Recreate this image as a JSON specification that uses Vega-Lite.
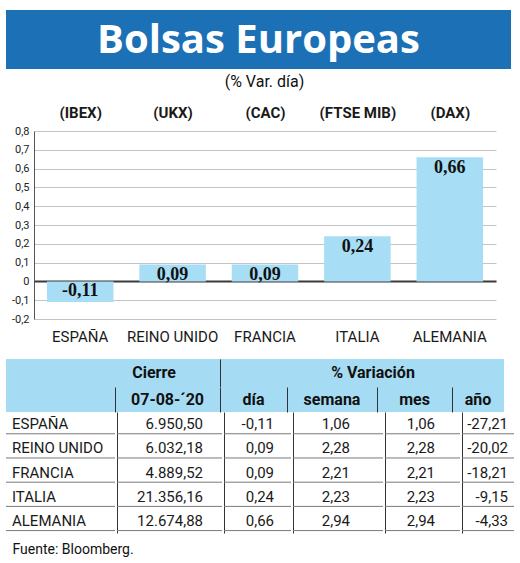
{
  "$schema": "https://vega.github.io/schema/vega-lite/v6.json",
  "background": "white",
  "padding": {"left": 5, "top": 10, "right": 0, "bottom": 0},
  "spacing": 15,
  "datasets": {
    "bolsas": [
      {"pais": "ESPAÑA", "indice": "(IBEX)", "cierre": 6950.50, "dia": -0.11, "semana": 1.06, "mes": 1.06, "anio": -27.21},
      {"pais": "REINO UNIDO", "indice": "(UKX)", "cierre": 6032.18, "dia": 0.09, "semana": 2.28, "mes": 2.28, "anio": -20.02},
      {"pais": "FRANCIA", "indice": "(CAC)", "cierre": 4889.52, "dia": 0.09, "semana": 2.21, "mes": 2.21, "anio": -18.21},
      {"pais": "ITALIA", "indice": "(FTSE MIB)", "cierre": 21356.16, "dia": 0.24, "semana": 2.23, "mes": 2.23, "anio": -9.15},
      {"pais": "ALEMANIA", "indice": "(DAX)", "cierre": 12674.88, "dia": 0.66, "semana": 2.94, "mes": 2.94, "anio": -4.33}
    ]
  },
  "vconcat": [
    {
      "width": 505,
      "height": 59,
      "view": {"fill": "#1b70b6", "stroke": null},
      "data": {"values": [{"titulo": "Bolsas Europeas"}]},
      "title": {"text": "(% Var. día)", "orient": "bottom", "offset": 5, "fontSize": 16, "fontWeight": "normal", "dx": 6, "color": "#111"},
      "mark": {"type": "text", "color": "white", "font": "Open Sans", "fontWeight": "bold", "fontSize": 40, "dy": 1},
      "encoding": {"text": {"field": "titulo"}}
    },
    {
      "spacing": 0,
      "hconcat": [
        {
          "width": 5,
          "height": 188,
          "data": {"values": [{"t": ""}]},
          "mark": "text",
          "encoding": {"text": {"field": "t"}}
        },
        {
          "width": 462,
          "height": 188,
          "data": {"name": "bolsas"},
          "encoding": {
            "y": {"field": "dia", "type": "quantitative",
              "scale": {"domain": [-0.2, 0.8], "nice": false},
              "axis": {"title": null, "values": [-0.2, -0.1, 0, 0.1, 0.2, 0.3, 0.4, 0.5, 0.6, 0.7, 0.8], "format": "~f", "labelOverlap": false, "ticks": false, "domain": true, "domainColor": "#555", "grid": true,
                "gridColor": {"condition": {"test": "datum.value === 0", "value": "#3a3a3a"}, "value": "#c4c4c4"},
                "gridWidth": {"condition": {"test": "datum.value === 0", "value": 2}, "value": 1},
                "labelFontSize": 11, "labelPadding": 5, "labelColor": "#222"}}
          },
          "layer": [
            {
              "mark": {"type": "bar", "color": "#a8def5"},
              "encoding": {
                "x": {"field": "pais", "type": "nominal", "sort": null,
                  "scale": {"paddingInner": 0.28, "paddingOuter": 0.14},
                  "axis": {"orient": "bottom", "title": null, "labelAngle": 0, "domain": false, "ticks": false, "labelPadding": 10, "labelFontSize": 15, "labelColor": "#1a1a1a"}}
              }
            },
            {
              "mark": {"type": "text", "font": "Liberation Serif", "fontWeight": "bold", "fontSize": 18, "color": "#111",
                "baseline": {"expr": "datum.dia < 0 ? 'bottom' : 'top'"},
                "dy": {"expr": "datum.dia < 0 ? -2 : 2"}},
              "encoding": {
                "x": {"field": "indice", "type": "nominal", "sort": null,
                  "scale": {"paddingInner": 0.28, "paddingOuter": 0.14},
                  "axis": {"orient": "top", "title": null, "labelAngle": 0, "domain": false, "ticks": false, "labelPadding": 11, "labelFontSize": 15, "labelFontWeight": "bold", "labelColor": "#1a1a1a"}},
                "text": {"field": "dia", "type": "quantitative", "format": ".2f"}
              }
            }
          ],
          "resolve": {"scale": {"x": "independent"}}
        }
      ]
    },
    {
      "spacing": 0,
      "title": {"text": "Fuente: Bloomberg.", "orient": "bottom", "anchor": "start", "offset": 10, "fontSize": 14, "fontWeight": "normal", "dx": 7, "color": "#111"},
      "vconcat": [
        {
          "spacing": 0,
          "hconcat": [
            {
              "width": 214, "height": 28,
              "view": {"fill": "#a6dcf3", "stroke": null},
              "data": {"values": [{"t": "Cierre"}]},
              "mark": {"type": "text", "fontWeight": "bold", "fontSize": 16, "dx": 41, "color": "#111"},
              "encoding": {"text": {"field": "t"}}
            },
            {
              "width": 284, "height": 28,
              "view": {"fill": "#a6dcf3", "stroke": null},
              "data": {"values": [{"t": "% Variación"}]},
              "mark": {"type": "text", "fontWeight": "bold", "fontSize": 16, "dx": 11, "color": "#111"},
              "encoding": {
                "text": {"field": "t"},
                "y": {"field": "t", "type": "nominal", "axis": {"labels": false, "ticks": false, "title": null, "domainColor": "#333"}}
              }
            }
          ]
        },
        {
          "spacing": 0,
          "hconcat": [
            {
              "width": 109, "height": 25,
              "view": {"fill": "#a6dcf3", "stroke": null},
              "data": {"values": [{"t": ""}]},
              "mark": {"type": "text"},
              "encoding": {"text": {"field": "t"}}
            },
            {
              "width": 105, "height": 25,
              "view": {"fill": "#a6dcf3", "stroke": null},
              "data": {"values": [{"t": "07-08-´20"}]},
              "mark": {"type": "text", "fontWeight": "bold", "fontSize": 16, "color": "#111"},
              "encoding": {
                "text": {"field": "t"},
                "y": {"field": "t", "type": "nominal", "axis": {"labels": false, "ticks": false, "title": null, "domainColor": "#333"}}
              }
            },
            {
              "width": 67, "height": 25,
              "view": {"fill": "#a6dcf3", "stroke": null},
              "data": {"values": [{"t": "día"}]},
              "mark": {"type": "text", "fontWeight": "bold", "fontSize": 16, "color": "#111"},
              "encoding": {
                "text": {"field": "t"},
                "y": {"field": "t", "type": "nominal", "axis": {"labels": false, "ticks": false, "title": null, "domainColor": "#333"}}
              }
            },
            {
              "width": 90, "height": 25,
              "view": {"fill": "#a6dcf3", "stroke": null},
              "data": {"values": [{"t": "semana"}]},
              "mark": {"type": "text", "fontWeight": "bold", "fontSize": 16, "color": "#111"},
              "encoding": {
                "text": {"field": "t"},
                "y": {"field": "t", "type": "nominal", "axis": {"labels": false, "ticks": false, "title": null, "domainColor": "#333"}}
              }
            },
            {
              "width": 75, "height": 25,
              "view": {"fill": "#a6dcf3", "stroke": null},
              "data": {"values": [{"t": "mes"}]},
              "mark": {"type": "text", "fontWeight": "bold", "fontSize": 16, "color": "#111"},
              "encoding": {
                "text": {"field": "t"},
                "y": {"field": "t", "type": "nominal", "axis": {"labels": false, "ticks": false, "title": null, "domainColor": "#333"}}
              }
            },
            {
              "width": 52, "height": 25,
              "view": {"fill": "#a6dcf3", "stroke": null},
              "data": {"values": [{"t": "año"}]},
              "mark": {"type": "text", "fontWeight": "bold", "fontSize": 16, "color": "#111"},
              "encoding": {
                "text": {"field": "t"},
                "y": {"field": "t", "type": "nominal", "axis": {"labels": false, "ticks": false, "title": null, "domainColor": "#333"}}
              }
            }
          ]
        },
        {
          "spacing": 0,
          "hconcat": [
            {
              "width": 109, "height": 121,
              "data": {"name": "bolsas"},
              "layer": [
                {"mark": {"type": "rule", "color": "#7a7a7a"},
                 "encoding": {"y": {"field": "pais", "type": "nominal", "sort": null, "bandPosition": 0.9, "axis": null}}},
                {"mark": {"type": "text", "align": "left", "dx": 6, "fontSize": 15, "color": "#1a1a1a"},
                 "encoding": {"x": {"value": 0}, "y": {"field": "pais", "type": "nominal", "sort": null, "axis": null}, "text": {"field": "pais"}}}
              ]
            },
            {
              "width": 105, "height": 121,
              "data": {"name": "bolsas"},
              "layer": [
                {"mark": {"type": "rule", "color": "#7a7a7a"},
                 "encoding": {"y": {"field": "pais", "type": "nominal", "sort": null, "bandPosition": 0.9, "axis": {"labels": false, "ticks": false, "title": null, "domainColor": "#333"}}}},
                {"mark": {"type": "text", "align": "right", "dx": -19, "fontSize": 15, "color": "#1a1a1a"},
                 "encoding": {"x": {"value": "width"}, "y": {"field": "pais", "type": "nominal", "sort": null, "axis": {"labels": false, "ticks": false, "title": null, "domainColor": "#333"}}, "text": {"field": "cierre", "type": "quantitative", "format": ",.2f"}}}
              ]
            },
            {
              "width": 67, "height": 121,
              "data": {"name": "bolsas"},
              "layer": [
                {"mark": {"type": "rule", "color": "#7a7a7a"},
                 "encoding": {"y": {"field": "pais", "type": "nominal", "sort": null, "bandPosition": 0.9, "axis": {"labels": false, "ticks": false, "title": null, "domainColor": "#333"}}}},
                {"mark": {"type": "text", "align": "right", "dx": -17, "fontSize": 15, "color": "#1a1a1a"},
                 "encoding": {"x": {"value": "width"}, "y": {"field": "pais", "type": "nominal", "sort": null, "axis": {"labels": false, "ticks": false, "title": null, "domainColor": "#333"}}, "text": {"field": "dia", "type": "quantitative", "format": ".2f"}}}
              ]
            },
            {
              "width": 90, "height": 121,
              "data": {"name": "bolsas"},
              "layer": [
                {"mark": {"type": "rule", "color": "#7a7a7a"},
                 "encoding": {"y": {"field": "pais", "type": "nominal", "sort": null, "bandPosition": 0.9, "axis": {"labels": false, "ticks": false, "title": null, "domainColor": "#333"}}}},
                {"mark": {"type": "text", "align": "right", "dx": -33, "fontSize": 15, "color": "#1a1a1a"},
                 "encoding": {"x": {"value": "width"}, "y": {"field": "pais", "type": "nominal", "sort": null, "axis": {"labels": false, "ticks": false, "title": null, "domainColor": "#333"}}, "text": {"field": "semana", "type": "quantitative", "format": ".2f"}}}
              ]
            },
            {
              "width": 75, "height": 121,
              "data": {"name": "bolsas"},
              "layer": [
                {"mark": {"type": "rule", "color": "#7a7a7a"},
                 "encoding": {"y": {"field": "pais", "type": "nominal", "sort": null, "bandPosition": 0.9, "axis": {"labels": false, "ticks": false, "title": null, "domainColor": "#333"}}}},
                {"mark": {"type": "text", "align": "right", "dx": -25, "fontSize": 15, "color": "#1a1a1a"},
                 "encoding": {"x": {"value": "width"}, "y": {"field": "pais", "type": "nominal", "sort": null, "axis": {"labels": false, "ticks": false, "title": null, "domainColor": "#333"}}, "text": {"field": "mes", "type": "quantitative", "format": ".2f"}}}
              ]
            },
            {
              "width": 52, "height": 121,
              "data": {"name": "bolsas"},
              "layer": [
                {"mark": {"type": "rule", "color": "#7a7a7a"},
                 "encoding": {"y": {"field": "pais", "type": "nominal", "sort": null, "bandPosition": 0.9, "axis": {"labels": false, "ticks": false, "title": null, "domainColor": "#333"}}}},
                {"mark": {"type": "text", "align": "right", "dx": -6, "fontSize": 15, "color": "#1a1a1a"},
                 "encoding": {"x": {"value": "width"}, "y": {"field": "pais", "type": "nominal", "sort": null, "axis": {"labels": false, "ticks": false, "title": null, "domainColor": "#333"}}, "text": {"field": "anio", "type": "quantitative", "format": ".2f"}}}
              ]
            }
          ]
        }
      ]
    }
  ],
  "config": {
    "font": "Roboto",
    "view": {"stroke": null},
    "axis": {"labelFont": "Roboto"},
    "title": {"font": "Roboto"},
    "text": {"font": "Roboto"},
    "locale": {"number": {"decimal": ",", "thousands": ".", "grouping": [3], "currency": ["", " €"], "minus": "-"}}
  }
}
